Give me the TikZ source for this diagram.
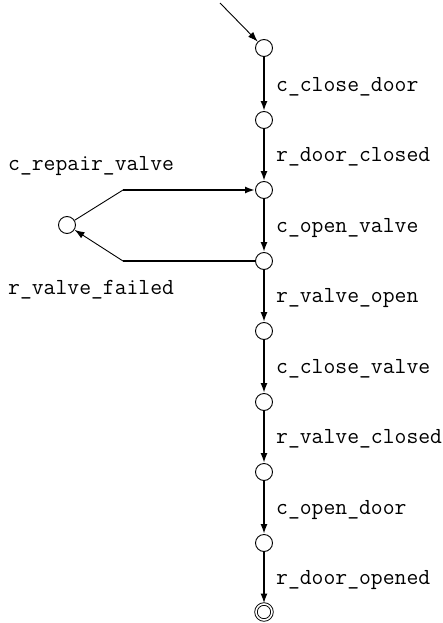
\documentclass[tikz,border=0pt]{standalone}
\usetikzlibrary{arrows.meta}
\begin{document}
\begin{tikzpicture}[x=1pt,y=-1pt,
  state/.style={circle,draw,line width=0.9pt,minimum size=17pt,inner sep=0pt},
  final/.style={state,double,double distance=1.6pt,minimum size=16pt},
  trans/.style={line width=1.8pt,-{Latex[length=10pt,width=7pt]}},
  thin trans/.style={line width=0.9pt},
  lbl/.style={font=\fontsize{23}{27}\selectfont\ttfamily,inner sep=0pt,anchor=west}]
\useasboundingbox (0,0) rectangle (443,623);
% states of the main chain
\node[state] (s0) at (264,48) {};
\node[state] (s1) at (264,120) {};
\node[state] (s2) at (264,190) {};
\node[state] (s3) at (264,261) {};
\node[state] (s4) at (264,331) {};
\node[state] (s5) at (264,402) {};
\node[state] (s6) at (264,472) {};
\node[state] (s7) at (264,543) {};
\node[final] (s8) at (264,612) {};
% repair state
\node[state] (sf) at (67,225) {};
\coordinate (start) at (220,3);
\coordinate (up) at (123,190);
\coordinate (lo) at (123,261);
% initial arrow
\draw[line width=0.9pt,-{Latex[length=10pt,width=7pt]}] (start) -- (s0);
% chain transitions
\draw[trans] (s0) -- (s1);
\draw[trans] (s1) -- (s2);
\draw[trans] (s2) -- (s3);
\draw[trans] (s3) -- (s4);
\draw[trans] (s4) -- (s5);
\draw[trans] (s5) -- (s6);
\draw[trans] (s6) -- (s7);
\draw[trans] (s7) -- (s8);
% failure / repair loop
\draw[line width=1.5pt] (s3) -- (lo);
\draw[thin trans,-{Latex[length=10pt,width=7pt]}] (lo) -- (sf);
\draw[thin trans] (sf) -- (up);
\draw[line width=2.4pt,-{Latex[length=10pt,width=7pt]}] (up) -- (s2);
% labels
\node[lbl] (l0) at (276,87) {c\_close\_door};
\node[lbl] (l1) at (276,157) {r\_door\_closed};
\node[lbl] (l2) at (276,228) {c\_open\_valve};
\node[lbl] (l3) at (276,298) {r\_valve\_open};
\node[lbl] (l4) at (276,369) {c\_close\_valve};
\node[lbl] (l5) at (276,439) {r\_valve\_closed};
\node[lbl] (l6) at (276,510) {c\_open\_door};
\node[lbl] (l7) at (276,580) {r\_door\_opened};
\node[lbl] (lr) at (8,166) {c\_repair\_valve};
\node[lbl] (lf) at (8,290) {r\_valve\_failed};
\end{tikzpicture}
\end{document}
